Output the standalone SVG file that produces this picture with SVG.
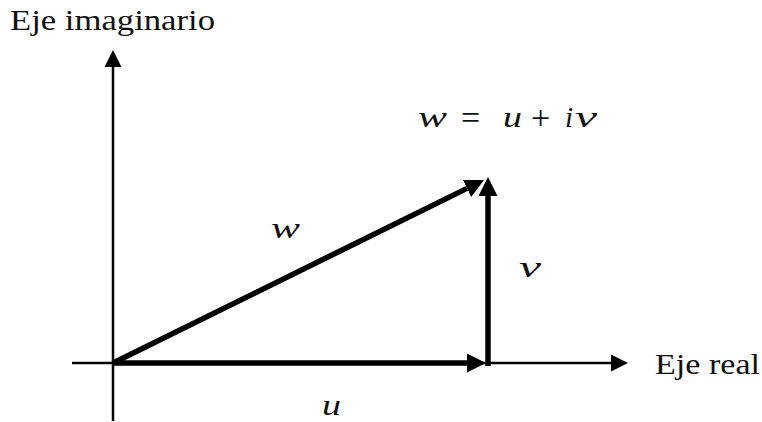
<svg xmlns="http://www.w3.org/2000/svg" width="762" height="422" viewBox="0 0 762 422">
<style>
.axis{stroke:#000;stroke-width:2.5;fill:none}
.vec{stroke:#000;stroke-width:5.5;fill:none}
.lbl{font-size:29px;fill:#111}
.op{font-size:34px;fill:#111}
.math{font-style:italic;font-size:29px;fill:#111}
</style>
<defs>
<marker id="ah" markerUnits="userSpaceOnUse" viewBox="0 0 17 17" refX="0" refY="8.5" markerWidth="17" markerHeight="17" orient="auto">
<path d="M0,0 L17,8.5 L0,17 Z" fill="#000"/>
</marker>
<marker id="ahb" markerUnits="userSpaceOnUse" viewBox="0 0 19 19" refX="0" refY="9.5" markerWidth="19" markerHeight="19" orient="auto">
<path d="M0,0 L19,9.5 L0,19 Z" fill="#000"/>
</marker>
</defs>
<rect width="762" height="422" fill="#fff"/>
<g id="connectors">
<line class="axis" x1="113" y1="421" x2="113" y2="67" marker-end="url(#ah)"/>
<line class="axis" x1="72" y1="363" x2="611" y2="363" marker-end="url(#ah)"/>
<line class="vec" x1="113" y1="363" x2="467" y2="363" marker-end="url(#ahb)"/>
<line class="vec" x1="488" y1="366" x2="488" y2="196" marker-end="url(#ahb)"/>
<line class="vec" x1="113" y1="363" x2="467" y2="188.4" marker-end="url(#ahb)"/>
</g>
<g font-family="Liberation Serif, DejaVu Serif, serif">
<g id="label-imag"><text class="lbl" x="10" y="30" textLength="205" lengthAdjust="spacingAndGlyphs">Eje imaginario</text></g>
<g id="label-real"><text class="lbl" x="655" y="374" textLength="105" lengthAdjust="spacingAndGlyphs">Eje real</text></g>
<g id="label-eq">
<text class="math" x="418" y="127" textLength="29" lengthAdjust="spacingAndGlyphs">w</text>
<text class="op" x="461" y="129">=</text>
<text class="math" x="503" y="127" textLength="19" lengthAdjust="spacingAndGlyphs">u</text>
<text class="op" x="531" y="129">+</text>
<text class="math" x="565" y="127">i</text>
<text class="math" x="575" y="127" textLength="22" lengthAdjust="spacingAndGlyphs">v</text>
</g>
<g id="label-w"><text class="math" x="271" y="238" textLength="29" lengthAdjust="spacingAndGlyphs">w</text></g>
<g id="label-v"><text class="math" x="519" y="277" textLength="22" lengthAdjust="spacingAndGlyphs">v</text></g>
<g id="label-u"><text class="math" x="322" y="415" textLength="19" lengthAdjust="spacingAndGlyphs">u</text></g>
</g>
</svg>
